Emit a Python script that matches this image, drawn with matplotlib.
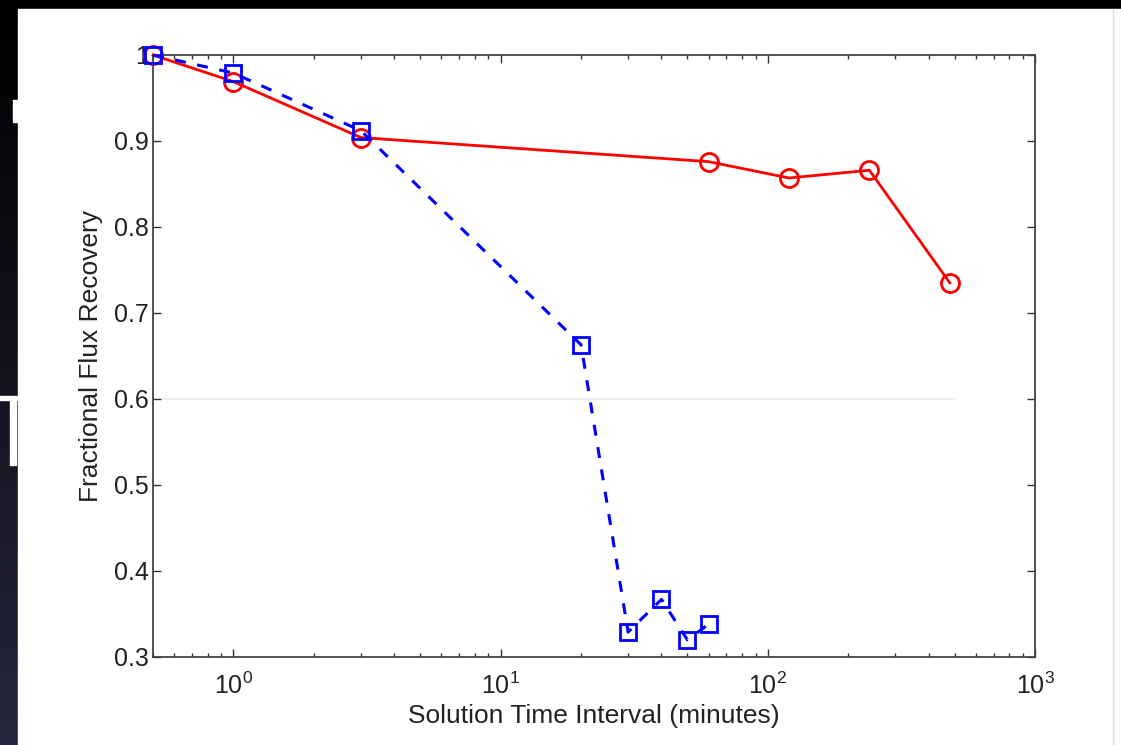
import matplotlib
matplotlib.use('Agg')
import matplotlib.pyplot as plt
import numpy as np
from matplotlib.patches import Rectangle
from matplotlib.ticker import LogLocator, FixedLocator, NullFormatter

FontSize = 18
LabelSize = 19

x_red = [0.5, 1, 3, 60, 120, 240, 480]
y_red = [1.0, 0.969, 0.904, 0.876, 0.857, 0.866, 0.735]
x_blue = [0.5, 1, 3, 20, 30, 40, 50, 60]
y_blue = [1.0, 0.979, 0.912, 0.663, 0.329, 0.367, 0.320, 0.338]
y_ticks = [0.3, 0.4, 0.5, 0.6, 0.7, 0.8, 0.9, 1.0]
y_tick_labels = ['0.3', '0.4', '0.5', '0.6', '0.7', '0.8', '0.9', '1']
X_limit = [0.5, 1000]
Y_limit = [0.3, 1.0]
ref_y = 0.6
ref_x = [0.5, 500]

plt.rcParams['font.family'] = ['Liberation Sans', 'DejaVu Sans']
plt.rcParams['mathtext.fontset'] = 'custom'
plt.rcParams['mathtext.rm'] = 'Liberation Sans'

fig = plt.figure(figsize=(11.21, 7.45), dpi=100)

# slide background behind the pasted chart
bg = fig.add_axes([0, 0, 1, 1])
grad = np.linspace(0, 1, 256).reshape(-1, 1)
bg.imshow(grad, aspect='auto', extent=[0, 1, 0, 1], origin='upper',
          cmap=matplotlib.colors.LinearSegmentedColormap.from_list('s', ['#000000', '#26263e']))
bg.set_xlim(0, 1)
bg.set_ylim(0, 1)
bg.axis('off')
bg.add_patch(Rectangle((18/1121, 0), 1 - 18/1121, 1 - 9/745, color='white', zorder=2))
bg.plot([1113/1121, 1113/1121], [0, 1 - 9/745], color='#dddddd', lw=1, zorder=3)
# white fragments of slide text
bg.add_patch(Rectangle((13/1121, 1 - 122/745), 5/1121, 22/745, color='white', zorder=3))
bg.add_patch(Rectangle((0, 1 - 400/745), 17/1121, 4/745, color='white', zorder=3))
bg.add_patch(Rectangle((10/1121, 1 - 465/745), 6/1121, 65/745, color='white', zorder=3))

ax = fig.add_axes([153/1121, 88/745, 882/1121, 602/745])
ax.set_facecolor('white')

ax.plot(ref_x, [ref_y, ref_y], color='#ececec', linewidth=1.2, zorder=1)
ax.plot(x_red, y_red, '-o', color='red', linewidth=2, markersize=13,
        markerfacecolor='none', markeredgewidth=2, clip_on=False, zorder=3)
ax.plot(x_blue, y_blue, '--s', color='blue', linewidth=2.2, markersize=11.5,
        markerfacecolor='none', markeredgewidth=2, dashes=(3.6, 3.8),
        clip_on=False, zorder=4)

ax.set_xscale('log')
ax.set_xlim(X_limit)
ax.set_ylim(Y_limit)
ax.yaxis.set_major_locator(FixedLocator(y_ticks))
ax.set_yticklabels(y_tick_labels)
ax.xaxis.set_major_locator(LogLocator(base=10, numticks=10))
ax.xaxis.set_minor_locator(LogLocator(base=10, subs=np.arange(2, 10), numticks=20))
ax.xaxis.set_minor_formatter(NullFormatter())

ax.tick_params(which='both', direction='in', top=True, right=True,
               colors='#333333', labelcolor='#222222', labelsize=FontSize)
ax.tick_params(which='major', length=6, width=1)
ax.tick_params(which='minor', length=3, width=1)
ax.tick_params(axis='x', pad=11)
ax.tick_params(axis='y', pad=3)
for s in ax.spines.values():
    s.set_color('#444444')
    s.set_linewidth(1.3)

ax.set_xlabel('Solution Time Interval (minutes)', fontsize=LabelSize, color='#222222', labelpad=4)
ax.set_ylabel('Fractional Flux Recovery', fontsize=LabelSize, color='#222222', labelpad=8)

plt.savefig('out.png', dpi=100)
